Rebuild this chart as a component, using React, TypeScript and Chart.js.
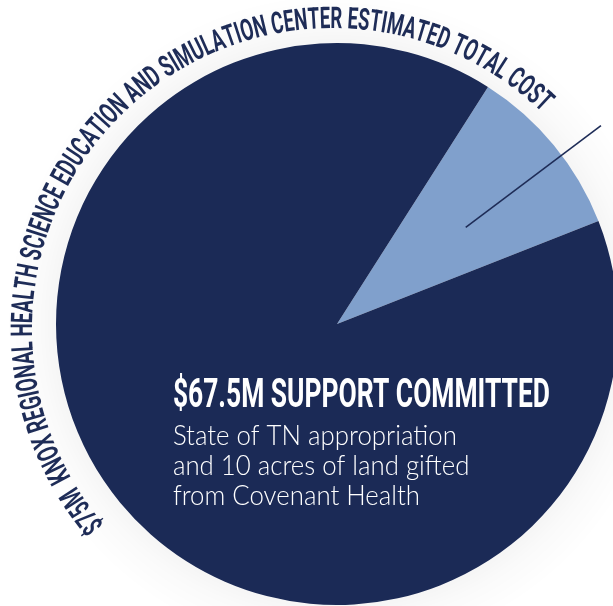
import React, { useEffect, useRef } from "react";
import { Chart, registerables } from "chart.js";

Chart.register(...registerables);

// ---- data ----
const categories = ["Remaining to raise", "Support committed"];
const values = [7.5, 67.5];
const sliceColors = ["#80a0cc", "#1b2a56"];
const arcTitle =
  "$75M  KNOX REGIONAL HEALTH SCIENCE EDUCATION AND SIMULATION CENTER ESTIMATED TOTAL COST";
const headline = "$67.5M SUPPORT COMMITTED";
const detailLines = [
  "State of TN appropriation",
  "and 10 acres of land gifted",
  "from Covenant Health",
];

const textColor = "#1e2c57";

const decorPlugin = {
  id: "decor",
  beforeDatasetsDraw(chart: any) {
    const arc = chart.getDatasetMeta(0).data[0];
    if (!arc) return;
    const { x, y, outerRadius } = arc.getProps(["x", "y", "outerRadius"], true);
    const ctx = chart.ctx;
    ctx.save();
    const g = ctx.createRadialGradient(x, y, outerRadius - 5, x, y, outerRadius + 50);
    g.addColorStop(0, "rgba(0,0,0,0.045)");
    g.addColorStop(0.4, "rgba(0,0,0,0.018)");
    g.addColorStop(1, "rgba(0,0,0,0)");
    ctx.fillStyle = g;
    ctx.beginPath();
    ctx.arc(x, y, outerRadius + 50, 0, Math.PI * 2);
    ctx.fill();
    ctx.restore();
  },
  afterDatasetsDraw(chart: any) {
    const meta = chart.getDatasetMeta(0);
    const arc = meta.data[0];
    if (!arc) return;
    const { x, y, outerRadius, startAngle, endAngle } = arc.getProps(
      ["x", "y", "outerRadius", "startAngle", "endAngle"],
      true
    );
    const R = outerRadius;
    const ctx = chart.ctx;
    ctx.save();

    // leader line through the light slice
    const a = (startAngle + endAngle) / 2 + 0.045;
    ctx.strokeStyle = textColor;
    ctx.lineWidth = 1.6;
    ctx.beginPath();
    ctx.moveTo(x + Math.cos(a) * R * 0.573, y + Math.sin(a) * R * 0.573);
    ctx.lineTo(x + Math.cos(a) * R * 1.175, y + Math.sin(a) * R * 1.175);
    ctx.stroke();

    // curved title text
    const tcx = x - 4;
    const tcy = y + 5;
    const tr = R + 20;
    ctx.font = 'bold 30px Roboto, "DejaVu Sans", sans-serif';
    ctx.fillStyle = textColor;
    ctx.textAlign = "left";
    ctx.textBaseline = "alphabetic";
    const chars = Array.from(arcTitle);
    const widths = chars.map((c) => ctx.measureText(c).width);
    const total = widths.reduce((s, w) => s + w, 0);
    const startPhi = (139.5 * Math.PI) / 180;
    const endPhi = (314 * Math.PI) / 180;
    const arcLen = (endPhi - startPhi) * tr;
    const sx = arcLen / total;
    let phi = startPhi;
    chars.forEach((c, i) => {
      const w = widths[i] * sx;
      const mid = phi + w / 2 / tr;
      ctx.save();
      ctx.translate(tcx + Math.cos(mid) * tr, tcy + Math.sin(mid) * tr);
      ctx.rotate(mid + Math.PI / 2);
      ctx.scale(sx, 1);
      ctx.textAlign = "center";
      ctx.fillText(c, 0, 0);
      ctx.restore();
      phi += w / tr;
    });

    // headline
    const left = x - R * 0.584;
    ctx.fillStyle = "#ffffff";
    ctx.textAlign = "left";
    ctx.font = 'bold 41px Roboto, "DejaVu Sans", sans-serif';
    const hw = ctx.measureText(headline).width;
    ctx.save();
    ctx.translate(left, y + 83);
    ctx.scale(377 / hw, 1);
    ctx.fillText(headline, 0, 0);
    ctx.restore();

    // detail lines
    ctx.font = '300 28px Lato, "Noto Sans", sans-serif';
    const lw = ctx.measureText(detailLines[0]).width;
    const ds = 284 / lw;
    detailLines.forEach((line, i) => {
      ctx.save();
      ctx.translate(left, y + 121 + i * 30);
      ctx.scale(ds, 1);
      ctx.fillText(line, 0, 0);
      ctx.restore();
    });

    ctx.restore();
  },
};

export default function App() {
  const canvasRef = useRef<HTMLCanvasElement | null>(null);

  useEffect(() => {
    if (!canvasRef.current) return;
    const chart = new Chart(canvasRef.current, {
      type: "pie",
      data: {
        labels: categories,
        datasets: [
          {
            data: values,
            backgroundColor: sliceColors,
            borderWidth: 0,
            radius: 281,
            hoverOffset: 0,
          } as any,
        ],
      },
      options: {
        animation: false,
        responsive: true,
        maintainAspectRatio: false,
        rotation: 32.5,
        layout: { padding: { left: 61, top: 42, right: 0, bottom: 0 } },
        plugins: {
          legend: { display: false },
          tooltip: { enabled: false },
          title: { display: false },
        },
        events: [],
      },
      plugins: [decorPlugin],
    });
    return () => chart.destroy();
  }, []);

  return (
    <div
      style={{
        position: "absolute",
        left: 0,
        top: 0,
        width: 613,
        height: 606,
        overflow: "hidden",
        background: "#ffffff",
      }}
    >
      <canvas ref={canvasRef} />
    </div>
  );
}
